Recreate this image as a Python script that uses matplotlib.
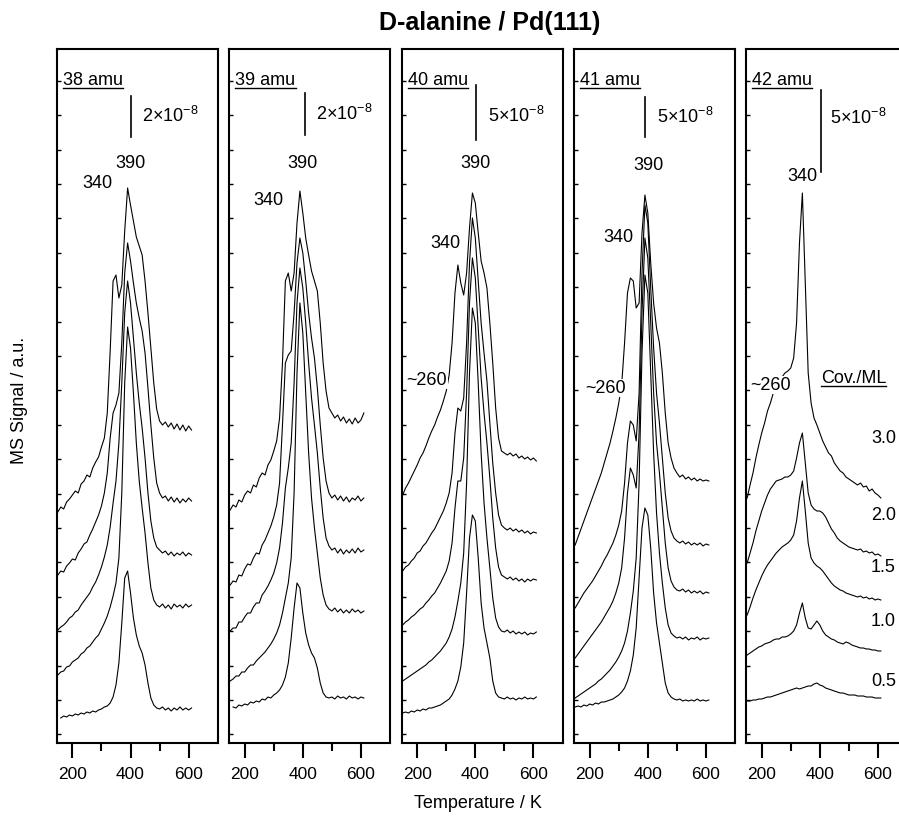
import numpy as np
import matplotlib
matplotlib.use("Agg")
import matplotlib.pyplot as plt
from matplotlib.ticker import FixedLocator
from matplotlib.lines import Line2D

plt.rcParams["font.family"] = ["Liberation Sans", "DejaVu Sans"]
plt.rcParams["mathtext.default"] = "regular"

nan = np.nan

# temperature grid (K)
T = [150, 160, 170, 180, 190, 200, 210, 220, 230, 240, 250, 260, 270, 280, 290, 300,
     310, 320, 330, 340, 350, 360, 370, 380, 390, 400, 410, 420, 430, 440, 450, 460,
     470, 480, 490, 500, 510, 520, 530, 540, 550, 560, 570, 580, 590, 600, 610]

coverages = ["3.0", "2.0", "1.5", "1.0", "0.5"]
masses = ["38 amu", "39 amu", "40 amu", "41 amu", "42 amu"]
scales = ["2×10$^{-8}$", "2×10$^{-8}$", "5×10$^{-8}$", "5×10$^{-8}$", "5×10$^{-8}$"]

# MS signal (a.u., curves already offset), 38 amu
s38_30 = [231, 236, 234, 241, 244, 248, 252, 250, 259, 262, 268, 266, 275, 281, 286, 296,
          305, 330, 392, 462, 468, 445, 458, 512, 555, 538, 522, 506, 497, 488, 462, 430,
          395, 360, 334, 322, 318, 321, 316, 320, 314, 319, 313, 318, 312, 317, 313]
s38_20 = [168, 172, 171, 177, 180, 184, 183, 190, 194, 199, 201, 208, 214, 221, 228, 237,
          250, 270, 305, 330, 338, 350, 400, 470, 500, 482, 460, 440, 425, 412, 390, 355,
          318, 285, 260, 250, 245, 247, 242, 246, 241, 245, 240, 244, 241, 245, 242]
s38_15 = [113, 116, 118, 121, 125, 127, 131, 133, 138, 142, 146, 150, 156, 161, 168, 176,
          186, 198, 216, 240, 262, 300, 360, 430, 462, 440, 405, 370, 340, 315, 285, 250,
          222, 205, 196, 193, 190, 192, 188, 191, 187, 190, 188, 191, 187, 190, 188]
s38_10 = [68, 71, 72, 76, 77, 81, 83, 85, 89, 91, 95, 97, 101, 105, 108, 114,
          120, 127, 136, 147, 160, 185, 250, 360, 416, 395, 350, 300, 262, 235, 210, 180,
          155, 143, 138, 136, 139, 135, 138, 134, 139, 136, 138, 135, 139, 136, 138]
s38_05 = [nan, 25, 27, 26, 28, 27, 29, 28, 30, 29, 31, 30, 32, 31, 33, 34,
          36, 37, 40, 46, 58, 80, 120, 165, 172, 150, 125, 108, 97, 90, 78, 60,
          45, 38, 35, 34, 36, 33, 35, 32, 35, 33, 36, 33, 35, 33, 35]

# 39 amu
s39_30 = [233, 238, 236, 243, 241, 248, 252, 250, 258, 256, 265, 270, 268, 278, 283, 292,
          302, 325, 380, 462, 470, 452, 470, 520, 552, 530, 505, 488, 472, 462, 452, 420,
          380, 352, 335, 330, 325, 328, 322, 326, 320, 324, 319, 325, 320, 323, 330]
s39_20 = [158, 162, 161, 168, 167, 174, 179, 178, 185, 190, 189, 198, 203, 210, 217, 226,
          238, 260, 318, 380, 388, 392, 430, 480, 505, 490, 462, 430, 405, 385, 355, 318,
          285, 262, 250, 245, 248, 243, 247, 242, 246, 241, 245, 243, 247, 242, 245]
s39_15 = [112, 115, 115, 121, 121, 126, 130, 130, 136, 140, 140, 148, 152, 157, 163, 170,
          180, 195, 220, 255, 275, 300, 360, 440, 475, 455, 420, 380, 345, 318, 290, 255,
          225, 205, 197, 193, 195, 190, 194, 189, 193, 190, 194, 190, 195, 191, 193]
s39_10 = [62, 64, 67, 67, 71, 71, 75, 78, 78, 82, 85, 88, 91, 95, 99, 104,
          110, 118, 130, 145, 160, 185, 250, 370, 440, 410, 350, 290, 245, 215, 190, 165,
          148, 138, 134, 132, 135, 131, 134, 130, 133, 130, 134, 131, 133, 130, 132]
s39_05 = [nan, 36, 35, 38, 37, 39, 38, 41, 40, 42, 41, 44, 43, 46, 45, 48,
          50, 53, 58, 66, 80, 105, 135, 160, 155, 130, 110, 98, 90, 85, 75, 60,
          50, 46, 45, 46, 44, 47, 45, 46, 44, 47, 45, 46, 44, 46, 45]

# 40 amu
s40_30 = [248, 255, 260, 266, 272, 278, 285, 290, 297, 305, 312, 318, 326, 333, 342, 352,
          368, 400, 450, 478, 460, 448, 470, 515, 550, 540, 510, 482, 470, 455, 420, 380,
          335, 305, 292, 290, 288, 290, 287, 289, 285, 287, 284, 286, 283, 285, 282]
s40_20 = [172, 176, 178, 182, 185, 190, 192, 197, 200, 205, 210, 214, 220, 226, 232, 240,
          250, 270, 310, 335, 332, 345, 400, 480, 525, 505, 462, 420, 390, 362, 320, 280,
          250, 228, 218, 215, 213, 215, 212, 214, 211, 213, 210, 212, 209, 211, 210]
s40_15 = [118, 121, 123, 126, 128, 131, 134, 136, 140, 143, 147, 150, 155, 160, 166, 172,
          182, 200, 235, 262, 262, 285, 350, 440, 485, 465, 415, 365, 330, 300, 265, 225,
          195, 176, 168, 166, 164, 166, 163, 165, 162, 164, 161, 164, 162, 164, 163]
s40_10 = [62, 64, 66, 68, 70, 72, 74, 76, 78, 81, 83, 86, 89, 92, 96, 100,
          106, 114, 126, 142, 160, 190, 260, 370, 435, 420, 360, 290, 240, 205, 175, 145,
          125, 116, 112, 111, 113, 110, 112, 109, 111, 109, 111, 108, 110, 109, 111]
s40_05 = [30, 31, 30, 32, 31, 33, 32, 34, 33, 35, 35, 36, 37, 38, 40, 42,
          44, 48, 54, 62, 76, 100, 150, 205, 228, 222, 185, 140, 115, 100, 85, 62,
          50, 46, 45, 44, 46, 44, 45, 43, 45, 44, 46, 44, 45, 44, 46]

# 41 amu
s41_30 = [198, 206, 214, 222, 230, 238, 246, 254, 262, 270, 280, 290, 300, 312, 325, 340,
          358, 400, 450, 465, 462, 435, 440, 510, 548, 530, 480, 440, 415, 400, 370, 330,
          300, 285, 275, 270, 266, 268, 264, 266, 263, 265, 262, 264, 262, 263, 262]
s41_20 = [135, 140, 145, 150, 154, 158, 162, 167, 172, 177, 183, 188, 194, 200, 208, 218,
          232, 260, 300, 322, 318, 302, 350, 470, 538, 520, 455, 395, 350, 320, 285, 250,
          225, 212, 205, 202, 200, 202, 199, 201, 198, 200, 198, 200, 197, 199, 198]
s41_15 = [85, 89, 93, 97, 101, 105, 109, 113, 117, 121, 126, 131, 136, 142, 150, 160,
          175, 205, 250, 275, 268, 255, 310, 430, 505, 485, 420, 350, 300, 270, 235, 200,
          175, 162, 156, 153, 152, 154, 151, 153, 150, 152, 150, 152, 149, 151, 150]
s41_10 = [45, 47, 49, 51, 53, 55, 57, 59, 62, 64, 67, 70, 73, 77, 81, 86,
          92, 100, 112, 130, 152, 185, 260, 390, 468, 450, 370, 290, 230, 190, 160, 135,
          118, 110, 107, 105, 106, 104, 106, 103, 105, 104, 106, 103, 105, 104, 105]
s41_05 = [36, 37, 36, 38, 37, 39, 38, 40, 39, 41, 41, 42, 43, 44, 46, 48,
          51, 55, 62, 72, 88, 115, 165, 215, 235, 228, 195, 150, 120, 100, 80, 60,
          50, 46, 44, 43, 44, 42, 43, 42, 43, 42, 44, 42, 43, 42, 43]

# 42 amu
s42_30 = [245, 258, 270, 285, 298, 310, 320, 332, 340, 350, 357, 362, 366, 370, 372, 375,
          385, 420, 500, 550, 460, 370, 340, 325, 318, 310, 302, 296, 290, 287, 280, 276,
          272, 270, 266, 264, 262, 260, 258, 260, 256, 257, 252, 254, 250, 248, 245]
s42_20 = [180, 190, 200, 212, 222, 232, 240, 248, 254, 258, 262, 263, 264, 266, 266, 268,
          272, 285, 300, 310, 280, 250, 238, 234, 232, 232, 230, 226, 220, 214, 210, 205,
          202, 200, 198, 196, 195, 194, 193, 194, 191, 192, 190, 191, 188, 189, 187]
s42_15 = [128, 136, 145, 153, 160, 167, 173, 178, 182, 186, 190, 193, 196, 198, 200, 203,
          208, 222, 245, 262, 232, 200, 185, 180, 177, 175, 172, 168, 164, 160, 157, 155,
          153, 152, 150, 149, 148, 147, 146, 147, 145, 146, 144, 145, 143, 144, 143]
s42_10 = [88, 90, 92, 94, 96, 97, 99, 100, 101, 103, 104, 104, 106, 106, 107, 109,
          112, 118, 130, 140, 125, 115, 114, 118, 122, 118, 112, 108, 106, 104, 103, 101,
          100, 99, 101, 100, 98, 97, 96, 95, 95, 94, 94, 93, 93, 92, 92]
s42_05 = [42, 42, 43, 43, 44, 44, 45, 46, 46, 47, 48, 49, 50, 51, 52, 53,
          54, 55, 54, 55, 56, 57, 57, 59, 60, 58, 57, 55, 54, 53, 52, 51,
          50, 50, 49, 48, 48, 48, 47, 47, 47, 46, 46, 46, 45, 45, 45]

panels = [
    [s38_30, s38_20, s38_15, s38_10, s38_05],
    [s39_30, s39_20, s39_15, s39_10, s39_05],
    [s40_30, s40_20, s40_15, s40_10, s40_05],
    [s41_30, s41_20, s41_15, s41_10, s41_05],
    [s42_30, s42_20, s42_15, s42_10, s42_05],
]

W, H = 899, 816
fig = plt.figure(figsize=(W / 100, H / 100), dpi=100)

lefts = [56.7, 229.0, 401.5, 574.0, 746.0]
pw, top, bot = 161.0, 49.0, 743.0
FS = 13

# scale bar (T, top, bottom), scale text (T, h), peak labels
bars = [(402, 647, 606), (407, 650, 608), (402, 658, 603), (390, 646, 606), (404, 653, 571)]
btxt = [(440, 627), (445, 629), (444, 627), (430, 626), (434, 625)]
plabels = [
    [("390", 400, 580), ("340", 285, 560)],
    [("390", 400, 580), ("340", 281, 543)],
    [("390", 399, 580), ("340", 296, 500), ("~260", 232, 363)],
    [("390", 401, 578), ("340", 298, 505), ("~260", 253, 355)],
    [("340", 341, 567), ("~260", 232, 358)],
]


def underline(t, ax, r):
    bb = t.get_window_extent(r)
    tr = ax.transAxes if t.get_transform() == ax.transAxes else ax.transData
    yb = tr.transform(t.get_position())[1]
    y = (yb - 3) / H
    fig.add_artist(Line2D([bb.x0 / W, bb.x1 / W], [y, y], color="black", lw=1.0))


axes = []
for i, curves in enumerate(panels):
    ax = fig.add_axes([lefts[i] / W, (H - bot) / H, pw / W, (bot - top) / H])
    axes.append(ax)
    for c in curves:
        ax.plot(T, c, color="black", lw=0.8)
    ax.set_xlim(146, 700)
    ax.set_ylim(0, bot - top)
    ax.set_xticks([200, 400, 600])
    ax.set_xticks([300, 500], minor=True)
    ax.tick_params(axis="x", which="major", direction="out", length=11, width=1.5,
                   labelsize=12.5, pad=6)
    ax.tick_params(axis="x", which="minor", direction="out", length=6, width=1.5)
    ax.yaxis.set_major_locator(FixedLocator(list(np.arange(8.6, 694, 34.4))))
    ax.tick_params(axis="y", which="major", direction="in", length=3, width=1,
                   labelleft=False)
    for s in ax.spines.values():
        s.set_linewidth(1.5)

    ax.text(0.04, 0.948, masses[i], transform=ax.transAxes, fontsize=FS, ha="left",
            va="baseline")
    bT, b1, b2 = bars[i]
    ax.plot([bT, bT], [b1, b2], color="black", lw=1.2)
    ax.text(btxt[i][0], btxt[i][1], scales[i], fontsize=FS, ha="left", va="center")
    for s, x, y in plabels[i]:
        ax.text(x, y, s, fontsize=FS, ha="center", va="center", zorder=5,
                bbox=dict(fc="white", ec="none", pad=0.5))

ax5 = axes[4]
cov_head = ax5.text(404, 360, "Cov./ML", fontsize=FS, ha="left", va="baseline")
for lab, h in zip(coverages, [305, 228, 175, 122, 61]):
    ax5.text(619, h, lab, fontsize=FS, ha="center", va="center")

fig.text(490 / W, 1 - 23 / H, "D-alanine / Pd(111)", fontsize=18, fontweight="bold",
         ha="center", va="center")
fig.text(478 / W, 1 - 803 / H, "Temperature / K", fontsize=13, ha="center", va="center")
fig.text(20 / W, 1 - 400 / H, "MS Signal / a.u.", fontsize=13, ha="center", va="center",
         rotation=90)

# underline panel titles and the coverage heading
fig.canvas.draw()
r = fig.canvas.get_renderer()
for a in axes:
    underline(a.texts[0], a, r)
underline(cov_head, ax5, r)

fig.savefig("out.png", dpi=100)
